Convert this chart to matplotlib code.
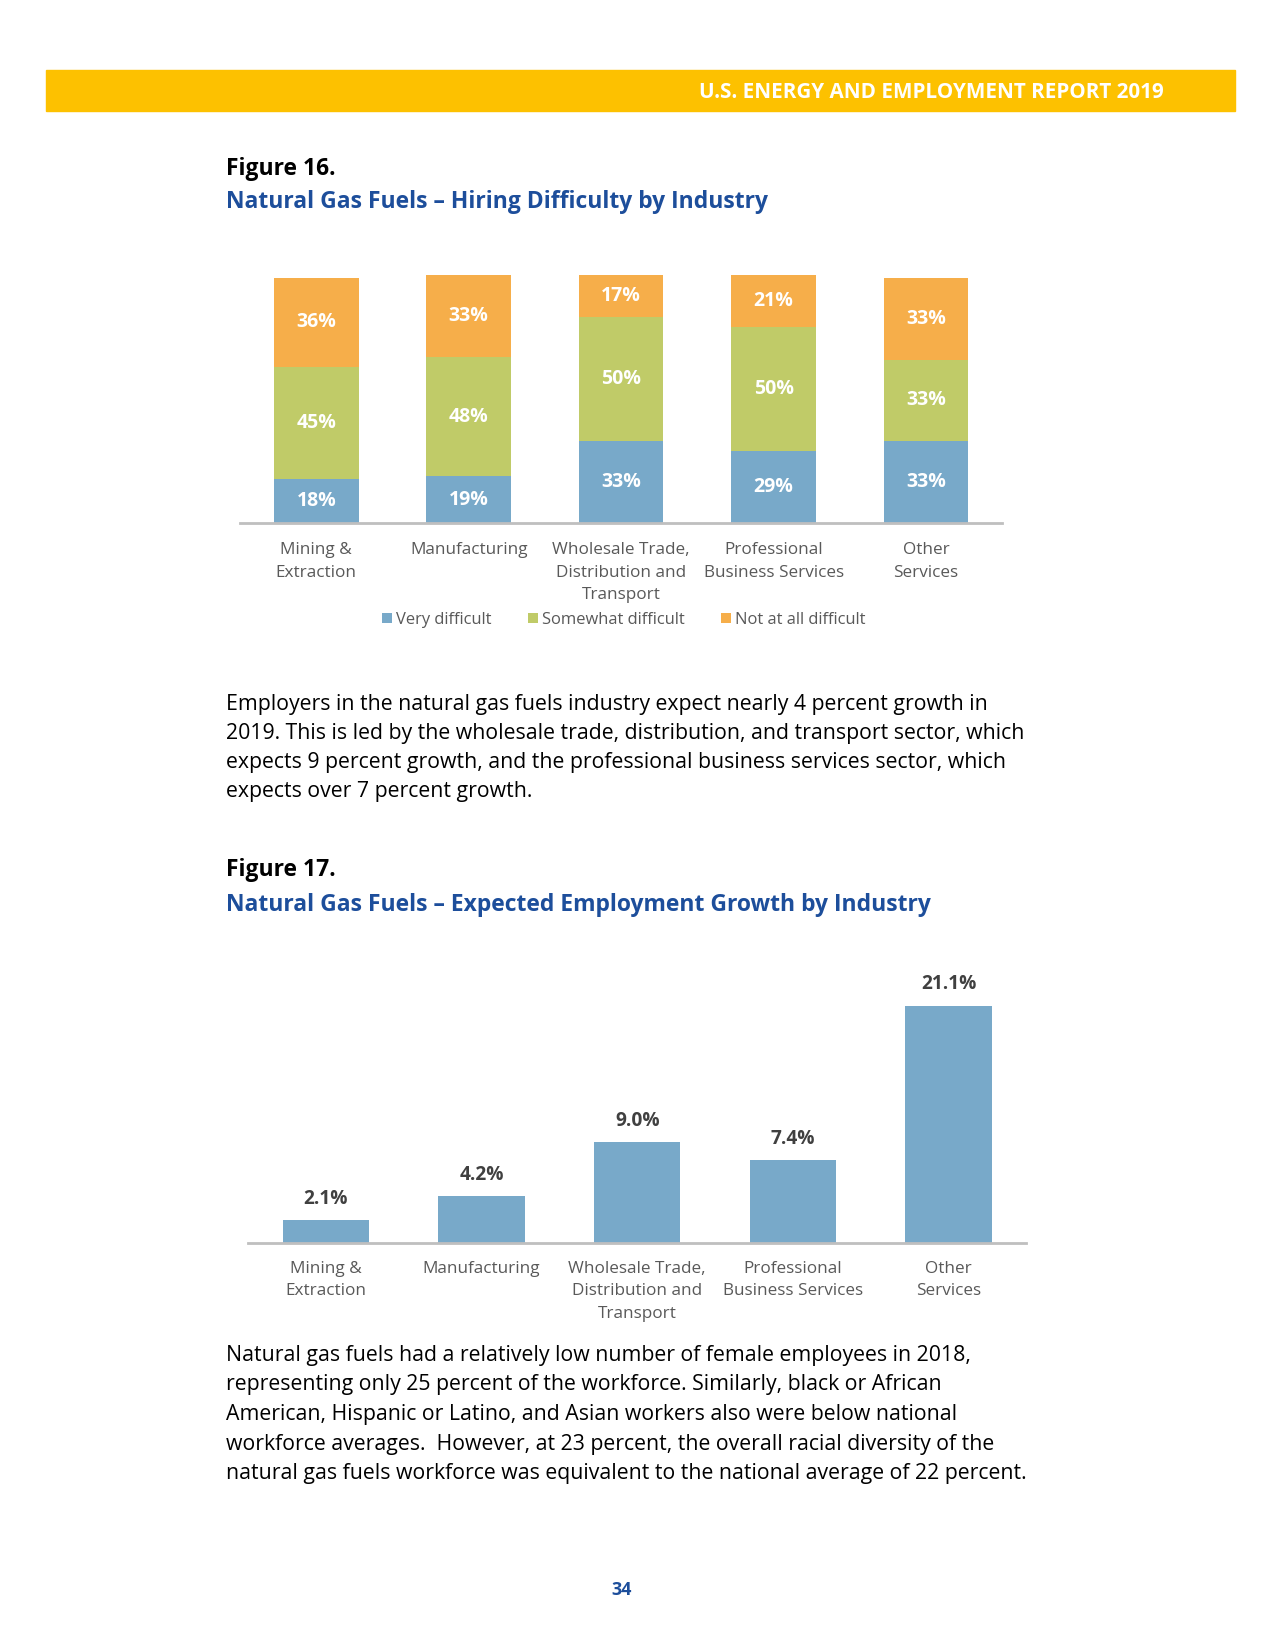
import matplotlib.pyplot as plt
from matplotlib.patches import Rectangle

plt.rcParams['font.family'] = ['Open Sans', 'DejaVu Sans']

W, H = 1275, 1650
S = 1.0043  # small correction of the measured page coordinates
T = 2.5     # text centre sits a bit below the bbox centre

# figure 16 data
industries = ["Mining &\nExtraction", "Manufacturing", "Wholesale Trade,\nDistribution and\nTransport",
              "Professional\nBusiness Services", "Other\nServices"]
very_difficult = [18, 19, 33, 29, 33]
somewhat_difficult = [45, 48, 50, 50, 33]
not_difficult = [36, 33, 17, 21, 33]
series_names = ["Very difficult", "Somewhat difficult", "Not at all difficult"]

# figure 17 data
growth = [2.1, 4.2, 9.0, 7.4, 21.1]

para1 = ["Employers in the natural gas fuels industry expect nearly 4 percent growth in",
         "2019. This is led by the wholesale trade, distribution, and transport sector, which",
         "expects 9 percent growth, and the professional business services sector, which",
         "expects over 7 percent growth."]
para2 = ["Natural gas fuels had a relatively low number of female employees in 2018,",
         "representing only 25 percent of the workforce. Similarly, black or African",
         "American, Hispanic or Latino, and Asian workers also were below national",
         "workforce averages.  However, at 23 percent, the overall racial diversity of the",
         "natural gas fuels workforce was equivalent to the national average of 22 percent."]

BLUE = "#78A9C9"
GREEN = "#C0CB68"
ORANGE = "#F6AE4A"
NAVY = "#1D4E9B"
GRAY = "#595959"
AXIS = "#BFBFBF"


def fx(x):
    return x * S / W


def fy(y):
    return 1 - y * S / H


def fh(h):
    return h * S / H


fig = plt.figure(figsize=(W / 100, H / 100), dpi=100)

# header band
fig.patches.append(Rectangle((fx(46), fy(111)), fx(1230) - fx(46), fh(111 - 70),
                             transform=fig.transFigure, color="#FDC100", zorder=0))
fig.text(fx(1159), fy(90 + T), "U.S. ENERGY AND EMPLOYMENT REPORT 2019", color="white",
         fontsize=14.9, fontweight="bold", ha="right", va="center")

fig.text(fx(225), fy(166 + T), "Figure 16.", fontsize=16.5, fontweight="bold", color="black", va="center")
fig.text(fx(225), fy(199 + T), "Natural Gas Fuels \u2013 Hiring Difficulty by Industry", fontsize=16.5,
         fontweight="bold", color=NAVY, va="center")

# ---- figure 16: stacked bars
ax1 = fig.add_axes([fx(239), fy(521), fx(998) - fx(239), fh(247)])
x = range(len(industries))
bottoms = [0] * len(industries)
handles = []
for vals, col, name in zip([very_difficult, somewhat_difficult, not_difficult],
                           [BLUE, GREEN, ORANGE], series_names):
    bars = ax1.bar(x, vals, width=0.555, bottom=bottoms, color=col, label=name)
    handles.append(bars)
    for xi, v, b in zip(x, vals, bottoms):
        ax1.text(xi, b + v / 2, f"{v}%", ha="center", va="center", color="white",
                 fontsize=14, fontweight="bold")
    bottoms = [b + v for b, v in zip(bottoms, vals)]

ax1.set_xlim(-0.5, 4.5)
ax1.set_ylim(0, 100)
ax1.set_yticks([])
ax1.set_xticks(list(x))
ax1.set_xticklabels(industries, fontsize=12.3, color=GRAY, linespacing=1.55)
ax1.tick_params(axis="x", length=0, pad=13.5)
for s in ["top", "right", "left"]:
    ax1.spines[s].set_visible(False)
ax1.spines["bottom"].set_color(AXIS)
ax1.spines["bottom"].set_linewidth(2)

fig.legend(handles=handles, labels=series_names, loc="center", bbox_to_anchor=(fx(621), fy(617)),
           ncol=3, frameon=False, fontsize=11.9, labelcolor=GRAY, handlelength=0.6, handleheight=0.6,
           handletextpad=0.25, columnspacing=2.2)

# paragraph 1
for i, line in enumerate(para1):
    fig.text(fx(225), fy(699 + T + i * 29.0), line, fontsize=15.3, color="black", va="center")

fig.text(fx(225), fy(864 + T), "Figure 17.", fontsize=16.5, fontweight="bold", color="black", va="center")
fig.text(fx(225), fy(899 + T), "Natural Gas Fuels \u2013 Expected Employment Growth by Industry", fontsize=16.5,
         fontweight="bold", color=NAVY, va="center")

# ---- figure 17: bars
ax2 = fig.add_axes([fx(247), fy(1238), fx(1022) - fx(247), fh(24 * 11.22)])
ax2.bar(x, growth, width=0.555, color=BLUE)
for xi, v in zip(x, growth):
    ax2.annotate(f"{v:.1f}%", (xi, v), xytext=(0, 8), textcoords="offset points", ha="center",
                 va="bottom", color="#404040", fontsize=13.8, fontweight="bold")
ax2.set_xlim(-0.5, 4.5)
ax2.set_ylim(0, 24)
ax2.set_yticks([])
ax2.set_xticks(list(x))
ax2.set_xticklabels(industries, fontsize=12.3, color=GRAY, linespacing=1.55)
ax2.tick_params(axis="x", length=0, pad=12.5)
for s in ["top", "right", "left"]:
    ax2.spines[s].set_visible(False)
ax2.spines["bottom"].set_color(AXIS)
ax2.spines["bottom"].set_linewidth(2)

# paragraph 2
for i, line in enumerate(para2):
    fig.text(fx(225), fy(1347 + T + i * 29.5), line, fontsize=15.3, color="black", va="center")

fig.text(fx(619), fy(1583), "34", fontsize=13, fontweight="bold", color=NAVY, ha="center", va="center")

fig.savefig("out.png", dpi=100)
